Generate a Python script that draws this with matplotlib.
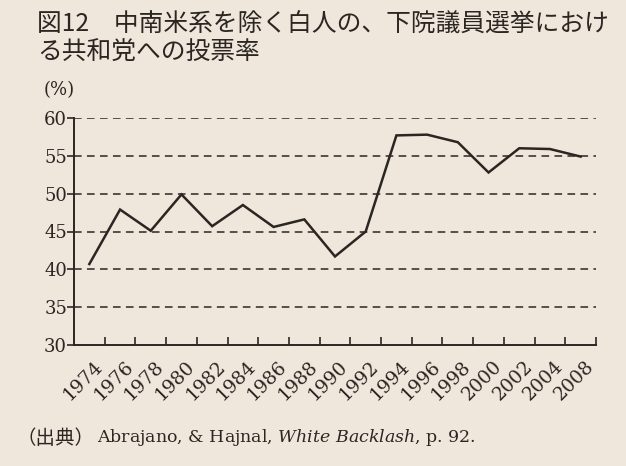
import numpy as np
import matplotlib
matplotlib.use('Agg')
import matplotlib.pyplot as plt
import matplotlib.transforms as mtransforms

# values
years = ['1974', '1976', '1978', '1980', '1982', '1984', '1986', '1988', '1990',
         '1992', '1994', '1996', '1998', '2000', '2002', '2004', '2008']
vote_share = [40.7, 47.9, 45.1, 49.9, 45.7, 48.5, 45.6, 46.6, 41.7,
              45.0, 57.7, 57.8, 56.8, 52.8, 56.0, 55.9, 54.9]
y_ticks = [30, 35, 40, 45, 50, 55, 60]

title1 = '図12　中南米系を除く白人の、下院議員選挙におけ'
title2 = 'る共和党への投票率'
unit = '(%)'
source_tag = '（出典）'
source = 'Abrajano, & Hajnal, $\\mathit{White\\ Backlash}$, p. 92.'

paper = '#efe7dc'
ink = '#2b2622'

plt.rcParams['mathtext.fontset'] = 'custom'
plt.rcParams['mathtext.it'] = 'DejaVu Serif:italic'
plt.rcParams['mathtext.rm'] = 'DejaVu Serif'

W, H = 626, 466
fig = plt.figure(figsize=(W / 100, H / 100), dpi=100, facecolor=paper)
ax = fig.add_axes([74 / W, 1 - 345 / H, (596 - 74) / W, (345 - 118) / H])
ax.set_facecolor(paper)

x = np.arange(len(years))
ax.plot(x, vote_share, color=ink, lw=1.8, solid_joinstyle='miter')

ax.set_xlim(-0.5, len(years) - 0.5)
ax.set_ylim(30, 60)

# dashed reference lines
for v in y_ticks[1:]:
    ax.axhline(v, color=ink, lw=1.1, ls=(0, (5, 3.5)), zorder=0)

for side in ['top', 'right']:
    ax.spines[side].set_visible(False)
for side in ['left', 'bottom']:
    ax.spines[side].set_color(ink)
    ax.spines[side].set_linewidth(1.4)

ax.set_yticks(y_ticks)
ax.set_yticklabels([str(v) for v in y_ticks], fontfamily='DejaVu Serif', fontsize=13, color=ink)
ax.tick_params(axis='y', direction='out', length=5, width=1.2, color=ink, pad=0)

ax.set_xticks(x)
ax.set_xticklabels(years, fontfamily='DejaVu Serif', fontsize=13.5, color=ink,
                   rotation=45, ha='right', va='top', rotation_mode='anchor')
ax.tick_params(axis='x', which='major', length=0, pad=9)
ax.set_xticks(np.arange(0.5, len(years), 1), minor=True)
ax.tick_params(axis='x', which='minor', direction='in', length=6, width=1.2, color=ink)
offset = mtransforms.ScaledTranslation(4 / 100, 0, fig.dpi_scale_trans)
for lab in ax.get_xticklabels():
    lab.set_transform(lab.get_transform() + offset)

fig.text(37 / W, 1 - 25 / H, title1, fontfamily='Noto Sans CJK JP', fontsize=17.8,
         color=ink, va='center', ha='left')
fig.text(37 / W, 1 - 53 / H, title2, fontfamily='Noto Sans CJK JP', fontsize=17.8,
         color=ink, va='center', ha='left')
fig.text(44 / W, 1 - 90 / H, unit, fontfamily='DejaVu Serif', fontsize=13,
         color=ink, va='center', ha='left')
fig.text(16 / W, 1 - 438 / H, source_tag, fontfamily='Noto Sans CJK JP',
         fontsize=14, color=ink, va='center', ha='left')
fig.text(97 / W, 1 - 438 / H, source, fontfamily='DejaVu Serif',
         fontsize=12.5, color=ink, va='center', ha='left')

fig.savefig('out.png', dpi=100, facecolor=paper)
